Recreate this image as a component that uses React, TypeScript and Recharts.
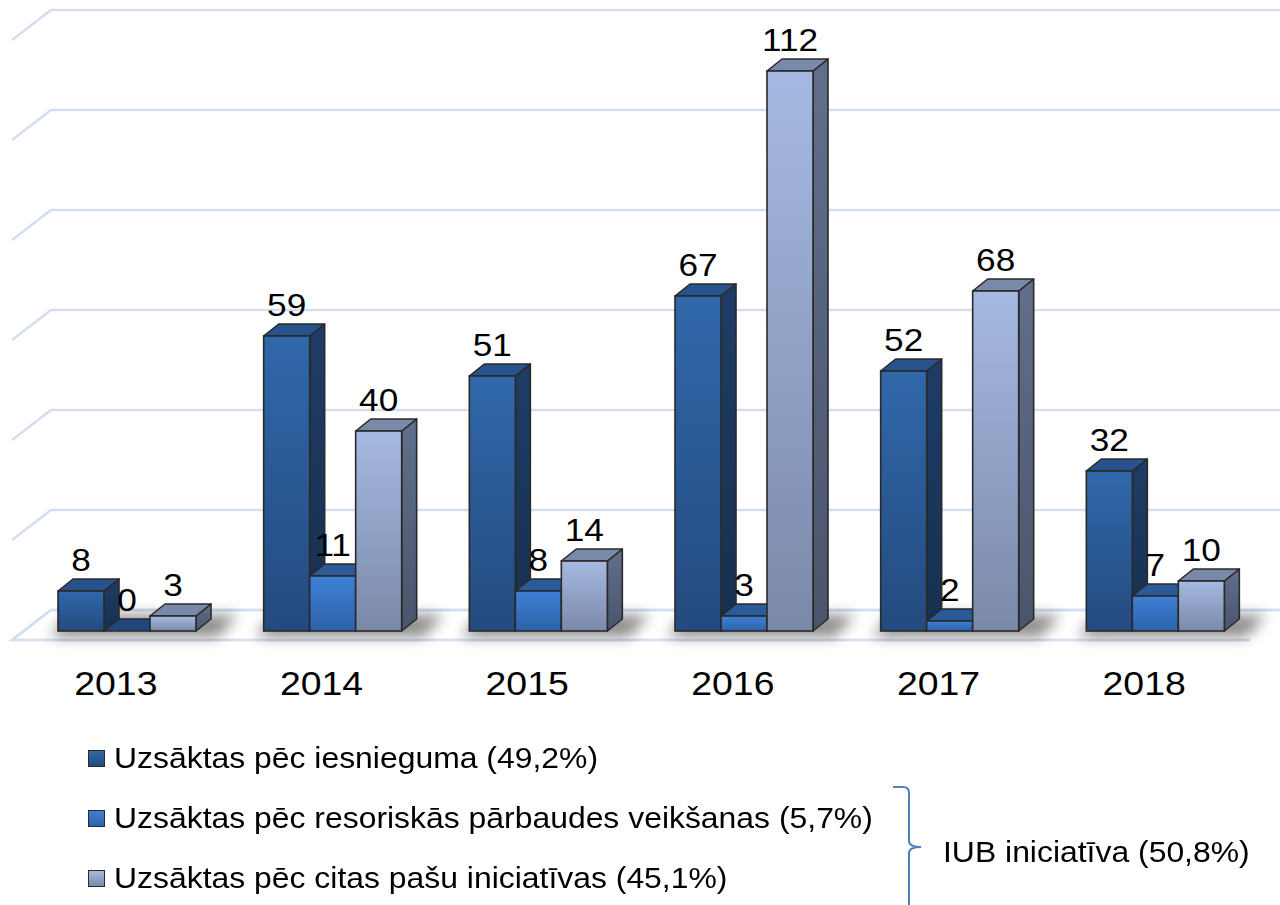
import React from "react";
import { Bar, BarChart, LabelList, ReferenceLine, XAxis, YAxis } from "recharts";

const years = ["2013", "2014", "2015", "2016", "2017", "2018"];
const pecIesnieguma = [8, 59, 51, 67, 52, 32];
const pecResoriskas = [0, 11, 8, 3, 2, 7];
const pecCitas = [3, 40, 14, 112, 68, 10];
const gridValues = [0, 20, 40, 60, 80, 100, 120];

const seriesNames = [
  "Uzsāktas pēc iesnieguma (49,2%)",
  "Uzsāktas pēc resoriskās pārbaudes veikšanas (5,7%)",
  "Uzsāktas pēc citas pašu iniciatīvas (45,1%)",
];
const groupLabel = "IUB iniciatīva (50,8%)";

const data = years.map((year, i) => ({
  year,
  s1: pecIesnieguma[i],
  s2: pecResoriskas[i],
  s3: pecCitas[i],
}));

const FONT = "'Liberation Sans', Arial, sans-serif";
const DX = 15;
const DY = 12;
const STROKE = "#2a2a2a";

type Palette = { id: string; front: [string, string]; top: string; side: [string, string] };

const palettes: Palette[] = [
  { id: "s1", front: ["#3068aa", "#234a7e"], top: "#27528c", side: ["#1e3c66", "#17304f"] },
  { id: "s2", front: ["#3d80d6", "#2e62aa"], top: "#2b5a98", side: ["#21467c", "#1b3a66"] },
  { id: "s3", front: ["#a6b9e2", "#7b89a9"], top: "#7889a9", side: ["#616f8c", "#4a556b"] },
];

// 3D bar: side + top faces drawn as parallelograms, optional floor shadow for the group
const makeShape = (p: Palette, shadow: boolean) => (props: any) => {
  const { x, y, width: w, height: h } = props;
  const bottom = y + h;
  return (
    <g>
      {shadow && (
        <polygon
          points={`${x - 8},${bottom + 6} ${x + 3 * w + 22},${bottom + 6} ${x + 3 * w + 42},${bottom - 16} ${x + 10},${bottom - 16}`}
          fill="#000"
          opacity={0.45}
          filter="url(#floorShadow)"
        />
      )}
      <polygon
        points={`${x + w},${y} ${x + w + DX},${y - DY} ${x + w + DX},${bottom - DY} ${x + w},${bottom}`}
        fill={`url(#${p.id}-side)`}
        stroke={STROKE}
        strokeWidth={1.6}
        strokeLinejoin="round"
      />
      <polygon
        points={`${x},${y} ${x + DX},${y - DY} ${x + w + DX},${y - DY} ${x + w},${y}`}
        fill={h > 0 ? p.top : p.side[0]}
        stroke={STROKE}
        strokeWidth={1.6}
        strokeLinejoin="round"
      />
      {h > 0 && (
        <rect x={x} y={y} width={w} height={h} fill={`url(#${p.id}-front)`} stroke={STROKE} strokeWidth={1.6} />
      )}
    </g>
  );
};

const ValueLabel = (props: any) => {
  const vb = props.viewBox ?? props;
  const cx = vb.x + vb.width / 2;
  const top = Math.min(vb.y, vb.y + vb.height);
  return (
    <text
      transform={`translate(${cx},${top - DY - 8}) scale(1.1,1)`}
      textAnchor="middle"
      fontFamily={FONT}
      fontSize={32}
      fill="#000"
    >
      {props.value}
    </text>
  );
};

const YearTick = (props: any) => {
  const { x, y, payload } = props;
  return (
    <text
      transform={`translate(${x - 11},${y + 56}) scale(1.1,1)`}
      textAnchor="middle"
      fontFamily={FONT}
      fontSize={34}
      fill="#000"
    >
      {payload.value}
    </text>
  );
};

const GridShape = (props: any) => {
  const { x1, y1 } = props;
  return (
    <path
      d={`M ${x1 - 12} ${y1 + 9} L ${x1 + 27} ${y1 - 21} L 1280 ${y1 - 21}`}
      fill="none"
      stroke="#d3dff1"
      strokeWidth={2.6}
    />
  );
};

const FloorShape = (props: any) => {
  const { x1, y1, x2 } = props;
  return (
    <path
      d={`M ${x2 - 8} ${y1 + 9} L ${x1 - 12} ${y1 + 9} L ${x1 + 27} ${y1 - 21} L 1280 ${y1 - 21}`}
      fill="none"
      stroke="#d3dff1"
      strokeWidth={2.6}
    />
  );
};

const legendColors = [
  ["#3068aa", "#234a7e"],
  ["#3d80d6", "#2e62aa"],
  ["#a6b9e2", "#7b89a9"],
];

export default function App() {
  return (
    <div style={{ position: "relative", width: 1280, height: 905, background: "#fff", overflow: "hidden" }}>
      <style>{"body{margin:0}"}</style>
      <BarChart
        width={1280}
        height={905}
        data={data}
        margin={{ top: 31, right: 22, bottom: 194, left: 24 }}
        barGap={0}
        barSize={46}
      >
        <defs>
          {palettes.map((p) => (
            <React.Fragment key={p.id}>
              <linearGradient id={`${p.id}-front`} x1="0" y1="0" x2="0" y2="1">
                <stop offset="0%" stopColor={p.front[0]} />
                <stop offset="100%" stopColor={p.front[1]} />
              </linearGradient>
              <linearGradient id={`${p.id}-side`} x1="0" y1="0" x2="0" y2="1">
                <stop offset="0%" stopColor={p.side[0]} />
                <stop offset="100%" stopColor={p.side[1]} />
              </linearGradient>
            </React.Fragment>
          ))}
          <filter id="floorShadow" x="-30%" y="-100%" width="160%" height="300%">
            <feGaussianBlur stdDeviation="7" />
          </filter>
        </defs>
        <XAxis dataKey="year" axisLine={false} tickLine={false} height={80} tick={<YearTick />} interval={0} />
        <YAxis hide domain={[0, 120]} ticks={gridValues} />
        <ReferenceLine y={0} shape={FloorShape} zIndex={-100} ifOverflow="visible" />
        {gridValues.map((v) => (
          <ReferenceLine key={v} y={v} shape={GridShape} zIndex={-90} ifOverflow="visible" />
        ))}
        <Bar dataKey="s1" name={seriesNames[0]} isAnimationActive={false} shape={makeShape(palettes[0], true)}>
          <LabelList dataKey="s1" content={<ValueLabel />} />
        </Bar>
        <Bar dataKey="s2" name={seriesNames[1]} isAnimationActive={false} shape={makeShape(palettes[1], false)}>
          <LabelList dataKey="s2" content={<ValueLabel />} />
        </Bar>
        <Bar dataKey="s3" name={seriesNames[2]} isAnimationActive={false} shape={makeShape(palettes[2], false)}>
          <LabelList dataKey="s3" content={<ValueLabel />} />
        </Bar>
      </BarChart>

      {seriesNames.map((name, i) => (
        <div
          key={name}
          style={{
            position: "absolute",
            left: 88,
            top: 758 + i * 60 - 20,
            height: 40,
            display: "flex",
            alignItems: "center",
            fontFamily: FONT,
            fontSize: 29,
            color: "#000",
            whiteSpace: "nowrap",
          }}
        >
          <span
            style={{
              display: "inline-block",
              width: 15,
              height: 15,
              border: "1.5px solid #2a2a2a",
              background: `linear-gradient(${legendColors[i][0]}, ${legendColors[i][1]})`,
              marginRight: 9,
            }}
          />
          <span style={{ display: "inline-block", transform: "scaleX(1.1)", transformOrigin: "left center" }}>{name}</span>
        </div>
      ))}

      <svg width={1280} height={905} style={{ position: "absolute", left: 0, top: 0, pointerEvents: "none" }}>
        <path
          d="M 893 787 L 903 787 Q 909 787 909 793 L 909 841 Q 909 847 921 847 Q 909 847 909 853 L 909 910"
          fill="none"
          stroke="#4f81bd"
          strokeWidth={2}
        />
      </svg>
      <div
        style={{
          position: "absolute",
          left: 943,
          top: 832,
          height: 40,
          display: "flex",
          alignItems: "center",
          fontFamily: FONT,
          fontSize: 29,
          color: "#000",
          whiteSpace: "nowrap",
        }}
      >
        <span style={{ display: "inline-block", transform: "scaleX(1.1)", transformOrigin: "left center" }}>{groupLabel}</span>
      </div>
    </div>
  );
}
